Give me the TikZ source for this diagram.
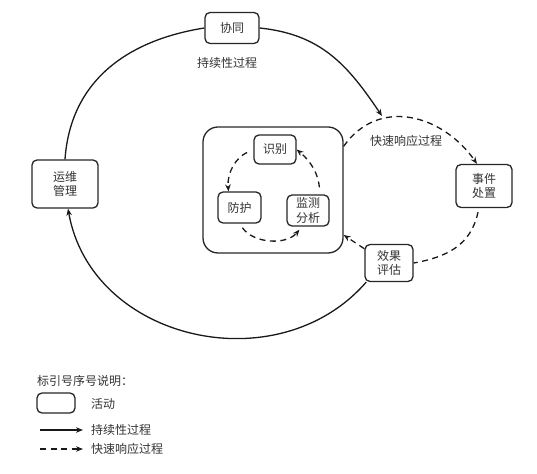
\documentclass[tikz,border=0pt]{standalone}
\usepackage{fontspec}
\setmainfont{Noto Sans CJK SC}
\usetikzlibrary{arrows.meta}
\begin{document}
\begin{tikzpicture}[x=1pt,y=1pt,
  box/.style={draw=black!85, line width=1.3pt, rounded corners=5pt, fill=white, align=center,
    font=\fontsize{12}{14.5}\selectfont, text=black!80, inner sep=0pt},
  lbl/.style={font=\fontsize{12}{14}\selectfont, text=black!80, inner sep=0pt},
  solidflow/.style={line width=1.3pt, draw=black!90},
  dashflow/.style={line width=1.3pt, draw=black!90, dash pattern=on 6pt off 4.5pt},
  tip/.style={-{Stealth[length=7pt,width=5.5pt]}}
]
\useasboundingbox (0,0) rectangle (537,473);

% outer activities
\node[box, minimum width=54pt, minimum height=31pt] (xt) at (232,445) {协同};
\node[box, minimum width=66pt, minimum height=48pt] (ops) at (65,289) {运维\\管理};
\node[box, minimum width=56pt, minimum height=43pt] (evt) at (484,287) {事件\\处置};
\node[box, minimum width=48pt, minimum height=37pt] (eva) at (389,210) {效果\\评估};

% inner box
\node[draw=black!85, line width=1.3pt, rounded corners=15pt, minimum width=140pt, minimum height=126pt, inner sep=0pt] (ib) at (273,283) {};
\node[box, minimum width=42pt, minimum height=29pt] (sb) at (275,323.5) {识别};
\node[box, minimum width=43pt, minimum height=31pt] (fh) at (239.5,265.5) {防护};
\node[box, minimum width=42pt, minimum height=31pt] (jc) at (308,262.5) {监测\\分析};

% labels
\node[lbl] (l1) at (227,410) {持续性过程};
\node[lbl] (l2) at (406,332) {快速响应过程};

% solid (continuous) cycle
\coordinate (ctip) at (382,357);
\draw[solidflow] (ops.north) to[out=86,in=189,looseness=1.05] (xt.west);
\draw[solidflow,tip] (xt.east) to[out=-6,in=124,looseness=1.05] (ctip);
\draw[solidflow,tip] (eva.-140) to[out=229,in=-80,looseness=1.12] ([xshift=3pt]ops.south);

% dashed (rapid response) path
\draw[dashflow,tip] ([yshift=-20pt]ib.north east) to[out=55,in=125,looseness=1.15] ([xshift=-7pt]evt.north);
\draw[dashflow] ([xshift=-6pt]evt.south) ++(0,-4) to[out=-102,in=10,looseness=1.05] (eva.east);
\draw[dashflow,tip] (eva.150) -- ([yshift=-45pt]ib.east);

% inner cycle
\draw[dashflow,tip,shorten <=7pt] (sb.west) to[out=205,in=95] ([xshift=-11pt]fh.north);
\draw[dashflow,tip,shorten <=5pt,shorten >=4pt] (fh.south) to[out=-55,in=-130] ([xshift=-6pt]jc.south);
\draw[dashflow,tip,shorten <=7pt] ([xshift=12pt]jc.north) to[out=95,in=-40] (sb.east);

% legend
\node[lbl, anchor=west] (lt) at (37,92) {标引号序号说明：};
\node[box, minimum width=38pt, minimum height=20pt] (lbox) at (56,70) {};
\node[lbl, anchor=west] (la) at (91,69) {活动};
\coordinate (s1) at (40,43);
\coordinate (s2) at (83,43);
\draw[solidflow,tip] (s1) -- (s2);
\node[lbl, anchor=west] (lb) at (91,43) {持续性过程};
\coordinate (d1) at (40,24);
\coordinate (d2) at (83,24);
\draw[dashflow,tip] (d1) -- (d2);
\node[lbl, anchor=west] (lc) at (91,24) {快速响应过程};
\end{tikzpicture}
\end{document}
